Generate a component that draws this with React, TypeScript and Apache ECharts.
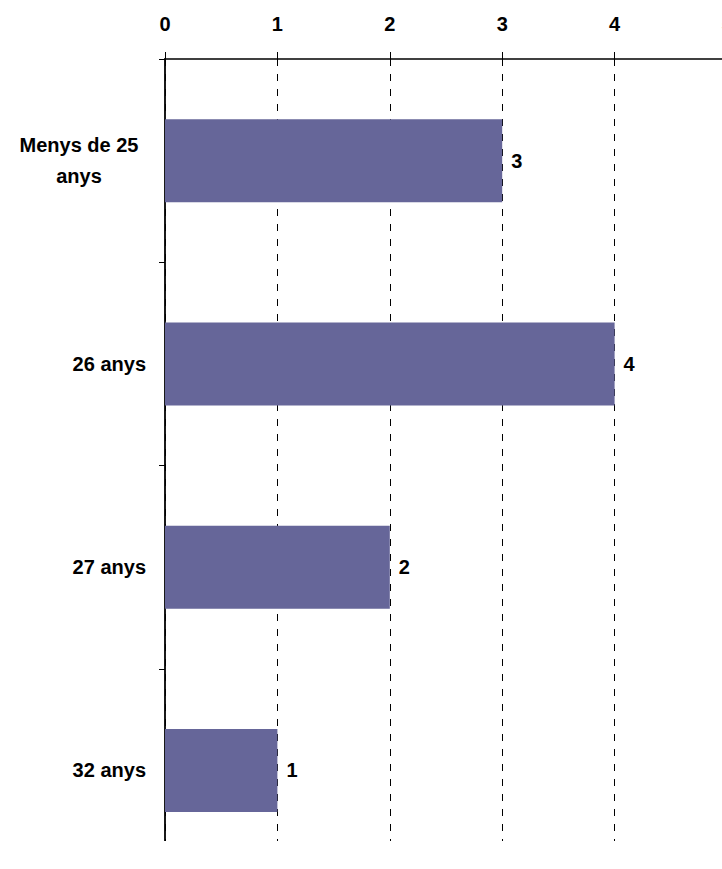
import React, { useEffect, useRef } from "react";
import * as echarts from "echarts";

const categories = ["Menys de 25\nanys", "26 anys", "27 anys", "32 anys"];
const values = [3, 4, 2, 1];
const xTicks = [0, 1, 2, 3, 4, 5];

const FONT = "'Liberation Sans', Arial, sans-serif";
const CHART_W = 740;
const CHART_H = 880;

export default function App() {
  const ref = useRef<HTMLDivElement>(null);

  useEffect(() => {
    if (!ref.current) return;
    const chart = echarts.init(ref.current, undefined, { renderer: "svg" });
    chart.setOption({
      animation: false,
      backgroundColor: "#ffffff",
      grid: { left: 165, top: 59, right: CHART_W - 727, bottom: CHART_H - 872, containLabel: false },
      xAxis: {
        type: "value",
        position: "top",
        min: xTicks[0],
        max: xTicks[xTicks.length - 1],
        interval: 1,
        axisLine: { show: true, lineStyle: { color: "#000", width: 1.5 } },
        axisTick: { show: true, length: 7, lineStyle: { color: "#000", width: 1 } },
        axisLabel: {
          margin: 25,
          color: "#000",
          fontSize: 20,
          fontWeight: "bold",
          fontFamily: FONT,
        },
        splitLine: { show: true, lineStyle: { color: "#000", width: 1, type: [7, 8] } },
      },
      yAxis: {
        type: "category",
        inverse: true,
        data: categories,
        axisLine: { show: true, lineStyle: { color: "#000", width: 1.8 } },
        axisTick: { show: true, length: 6, lineStyle: { color: "#000", width: 1 } },
        axisLabel: {
          margin: 19,
          color: "#000",
          fontSize: 20,
          fontWeight: "bold",
          fontFamily: FONT,
          lineHeight: 31,
          formatter: (v: string) =>
            v.indexOf("\n") >= 0
              ? v.split("\n").map((l) => `{c|${l}}`).join("\n")
              : v,
          rich: {
            c: {
              width: 134,
              align: "center",
              fontSize: 20,
              fontWeight: "bold",
              fontFamily: FONT,
              color: "#000",
              lineHeight: 31,
            },
          },
        },
        splitLine: { show: false },
      },
      series: [
        {
          type: "bar",
          data: values,
          barWidth: 83,
          itemStyle: { color: "#666699" },
          label: {
            show: true,
            position: "right",
            distance: 9,
            color: "#000",
            fontSize: 20,
            fontWeight: "bold",
            fontFamily: FONT,
          },
        },
      ],
      graphic: [
        {
          type: "rect",
          z: 100,
          shape: { x: 0, y: 841, width: CHART_W, height: 60 },
          style: { fill: "#ffffff" },
        },
      ],
    });
    return () => chart.dispose();
  }, []);

  return (
    <div
      style={{
        position: "fixed",
        left: 0,
        top: 0,
        width: 722,
        height: 869,
        overflow: "hidden",
        background: "#fff",
      }}
    >
      <div ref={ref} style={{ width: CHART_W, height: CHART_H }} />
    </div>
  );
}
